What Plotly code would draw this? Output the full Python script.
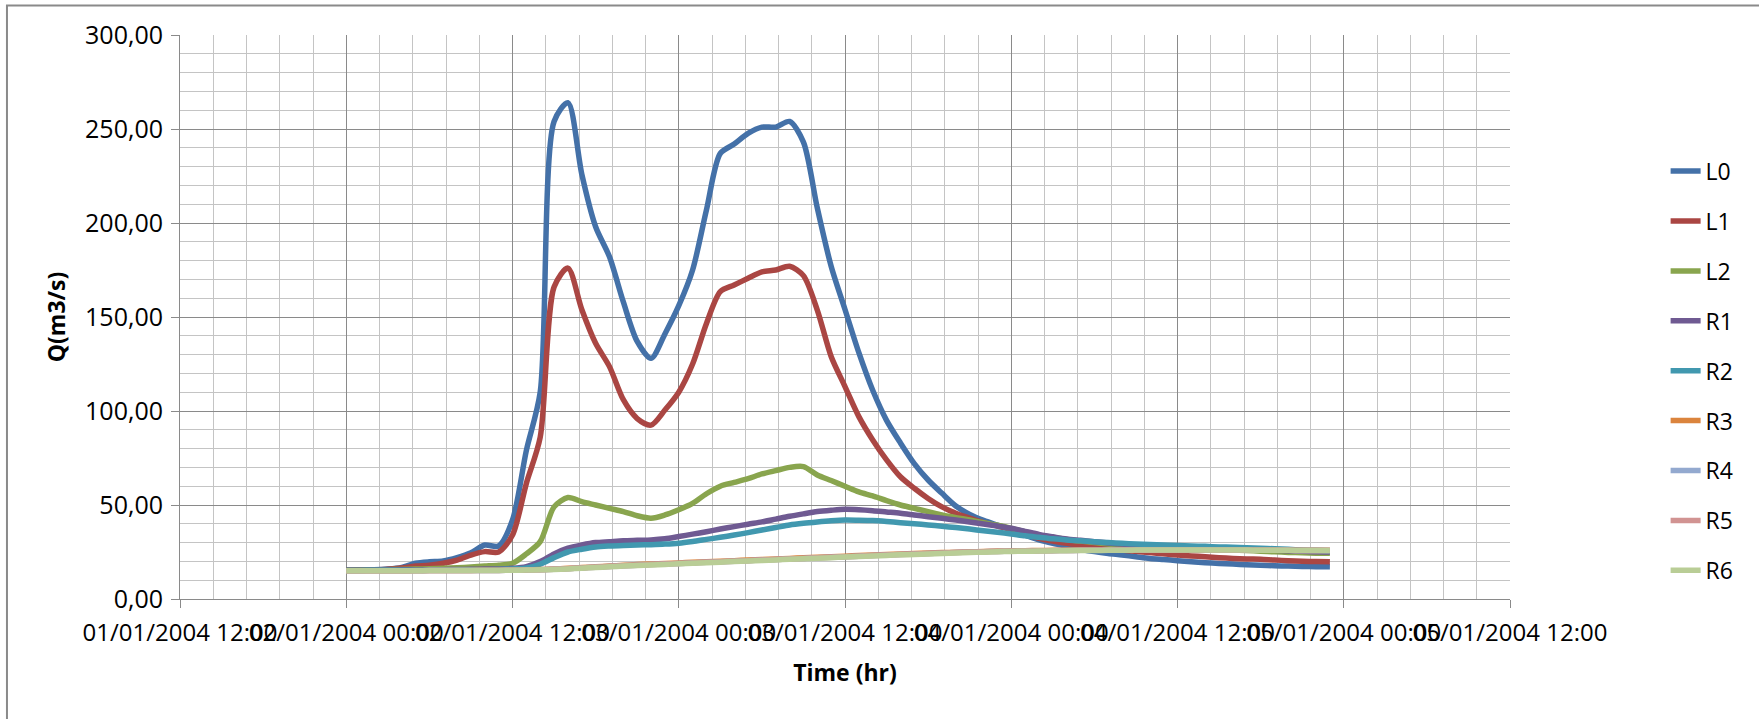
import plotly.graph_objects as go
import pandas as pd

# hourly time stamps, 02/01/2004 00:00 to 04/01/2004 23:00
start_time = "2004-01-02 00:00"
n_hours = 72
times = pd.date_range(start_time, periods=n_hours, freq="h")

series_names = ["L0", "L1", "L2", "R1", "R2", "R3", "R4", "R5", "R6"]

L0 = [15.3, 15.4, 15.5, 15.9, 16.8, 19.0, 19.8, 20.2, 22.0, 24.6, 28.7, 28.2,
      42.0, 79.0, 110.0, 254.0, 264.0, 226.0, 198.0, 182.0, 158.0, 137.0, 128.0, 141.0,
      156.0, 175.0, 207.0, 237.0, 242.0, 247.7, 251.0, 251.0, 254.0, 243.0, 208.0, 177.0,
      154.0, 131.0, 111.0, 95.0, 83.0, 72.0, 63.3, 56.2, 49.5, 45.0, 41.8, 39.3,
      37.0, 34.0, 31.5, 29.6, 28.0, 26.5, 25.2, 24.2, 23.4, 22.5, 21.6, 21.0,
      20.4, 19.8, 19.3, 18.9, 18.6, 18.2, 17.9, 17.7, 17.5, 17.3, 17.2, 17.1]

L1 = [15.3, 15.4, 15.5, 15.8, 16.5, 17.5, 18.0, 19.0, 20.7, 23.4, 25.2, 25.0,
      34.0, 61.5, 86.0, 166.0, 176.0, 154.0, 136.0, 123.6, 106.0, 96.0, 92.5, 100.5,
      110.0, 125.0, 146.6, 163.5, 167.0, 170.6, 174.0, 175.0, 177.0, 172.0, 153.7, 129.0,
      113.0, 97.0, 84.6, 74.0, 65.0, 58.9, 53.5, 49.0, 45.6, 43.0, 40.6, 38.8,
      37.0, 34.5, 32.3, 30.8, 29.6, 28.7, 27.9, 27.0, 26.1, 25.4, 24.7, 24.0,
      23.4, 22.9, 22.5, 22.0, 21.6, 21.3, 21.1, 20.7, 20.4, 20.1, 19.9, 19.8]

L2 = [15.3, 15.4, 15.5, 15.6, 15.7, 15.9, 16.1, 16.3, 16.6, 17.0, 17.5, 18.0,
      19.0, 24.0, 30.5, 49.0, 54.0, 51.8, 50.0, 48.2, 46.5, 44.3, 43.0, 44.7,
      47.5, 50.9, 56.0, 60.0, 62.0, 64.0, 66.5, 68.3, 70.0, 70.4, 66.0, 63.0,
      60.0, 57.0, 54.8, 52.3, 50.0, 48.2, 46.5, 44.7, 43.3, 42.0, 40.6, 39.2,
      37.6, 35.7, 34.0, 32.8, 31.7, 30.8, 30.0, 29.3, 28.7, 28.2, 27.8, 27.3,
      26.9, 26.7, 26.4, 26.2, 26.1, 25.8, 25.4, 25.1, 24.8, 24.6, 24.4, 24.3]

R1 = [15.3, 15.3, 15.4, 15.4, 15.5, 15.5, 15.6, 15.6, 15.7, 15.8, 15.9, 16.0,
      16.3, 17.2, 19.9, 24.0, 27.0, 28.7, 30.0, 30.5, 31.0, 31.2, 31.4, 32.0,
      33.2, 34.5, 35.8, 37.2, 38.5, 39.8, 41.0, 42.5, 44.0, 45.3, 46.5, 47.2,
      47.7, 47.5, 47.0, 46.3, 45.6, 44.7, 43.8, 42.9, 42.0, 41.0, 39.9, 38.8,
      37.6, 36.0, 34.4, 33.1, 31.9, 31.2, 30.5, 29.8, 29.2, 28.8, 28.3, 28.0,
      27.8, 27.5, 27.2, 27.0, 26.7, 26.4, 26.1, 25.9, 25.6, 25.4, 25.1, 25.0]

R2 = [15.2, 15.2, 15.3, 15.3, 15.3, 15.4, 15.4, 15.4, 15.5, 15.5, 15.6, 15.7,
      16.0, 16.5, 18.5, 22.0, 25.0, 26.5, 27.7, 28.2, 28.5, 28.7, 28.9, 29.2,
      29.7, 30.6, 31.7, 32.8, 34.0, 35.3, 36.7, 38.0, 39.4, 40.3, 41.0, 41.6,
      42.0, 41.9, 41.7, 41.2, 40.6, 40.0, 39.4, 38.7, 38.0, 37.2, 36.3, 35.5,
      34.6, 33.6, 32.8, 32.0, 31.4, 31.0, 30.5, 30.0, 29.6, 29.3, 29.0, 28.7,
      28.4, 28.2, 28.0, 27.7, 27.5, 27.2, 27.0, 26.7, 26.4, 26.1, 25.9, 25.7]

R3 = [15.0, 15.0, 15.0, 15.0, 15.0, 15.1, 15.1, 15.1, 15.2, 15.2, 15.3, 15.3,
      15.4, 15.5, 15.7, 15.9, 16.3, 16.7, 17.1, 17.5, 17.9, 18.3, 18.6, 18.9,
      19.2, 19.5, 19.8, 20.1, 20.4, 20.7, 21.0, 21.3, 21.6, 21.9, 22.2, 22.5,
      22.8, 23.1, 23.4, 23.7, 24.0, 24.2, 24.5, 24.7, 24.9, 25.1, 25.3, 25.5,
      25.6, 25.7, 25.8, 25.9, 26.0, 26.0, 26.1, 26.1, 26.1, 26.1, 26.1, 26.1,
      26.1, 26.1, 26.1, 26.1, 26.0, 26.0, 26.0, 26.0, 25.9, 25.9, 25.9, 25.9]

R4 = [15.0, 15.0, 15.0, 15.0, 15.0, 15.0, 15.1, 15.1, 15.1, 15.2, 15.2, 15.2,
      15.3, 15.4, 15.6, 15.8, 16.1, 16.5, 16.9, 17.3, 17.7, 18.0, 18.3, 18.6,
      18.9, 19.2, 19.5, 19.8, 20.1, 20.4, 20.7, 21.0, 21.3, 21.6, 21.9, 22.2,
      22.5, 22.8, 23.1, 23.4, 23.7, 23.9, 24.2, 24.4, 24.7, 24.9, 25.1, 25.3,
      25.4, 25.5, 25.6, 25.7, 25.8, 25.9, 25.9, 26.0, 26.0, 26.0, 26.0, 26.0,
      26.0, 26.0, 26.0, 26.0, 26.0, 26.0, 25.9, 25.9, 25.9, 25.8, 25.8, 25.8]

R5 = [15.0, 15.0, 15.0, 15.0, 15.0, 15.0, 15.1, 15.1, 15.1, 15.2, 15.2, 15.2,
      15.3, 15.4, 15.6, 15.8, 16.1, 16.5, 16.9, 17.3, 17.7, 18.0, 18.3, 18.6,
      18.9, 19.2, 19.5, 19.8, 20.1, 20.4, 20.7, 21.0, 21.3, 21.6, 21.9, 22.2,
      22.5, 22.8, 23.1, 23.4, 23.7, 23.9, 24.2, 24.4, 24.7, 24.9, 25.1, 25.3,
      25.4, 25.5, 25.6, 25.7, 25.8, 25.9, 25.9, 26.0, 26.0, 26.0, 26.0, 26.0,
      26.0, 26.0, 26.0, 26.0, 26.0, 26.0, 25.9, 25.9, 25.9, 25.8, 25.8, 25.8]

R6 = [15.0, 15.0, 15.0, 15.0, 15.0, 15.0, 15.1, 15.1, 15.1, 15.2, 15.2, 15.2,
      15.3, 15.4, 15.5, 15.7, 16.0, 16.4, 16.8, 17.1, 17.5, 17.8, 18.1, 18.4,
      18.7, 19.0, 19.3, 19.6, 19.9, 20.2, 20.5, 20.8, 21.1, 21.4, 21.7, 22.0,
      22.3, 22.6, 22.9, 23.2, 23.5, 23.7, 24.0, 24.2, 24.5, 24.7, 24.9, 25.1,
      25.3, 25.4, 25.5, 25.6, 25.7, 25.8, 25.8, 25.9, 25.9, 26.0, 26.0, 26.0,
      26.0, 26.0, 26.0, 26.0, 26.0, 26.0, 25.9, 25.9, 25.9, 25.8, 25.8, 25.8]

colors = ["#4471A8", "#AA4643", "#89A54E", "#6F5A92", "#4198AF",
          "#DB843D", "#93A9CF", "#D19392", "#B9CD96"]

values = [L0, L1, L2, R1, R2, R3, R4, R5, R6]

y_ticks = [0, 50, 100, 150, 200, 250, 300]
x_range = ["2004-01-01 12:00", "2004-01-05 12:00"]

FONT = "Open Sans, Noto Sans, sans-serif"
GRID_MAJOR = "#8A8A8A"
GRID_MINOR = "#C4C4C4"

fig = go.Figure()
for name, vals, col in zip(series_names, values, colors):
    fig.add_trace(go.Scatter(
        x=times, y=vals, name=name, mode="lines",
        line=dict(color=col, width=5.5, shape="spline", smoothing=0.8),
        legendgroup=name,
    ))

fig.update_layout(
    width=1759, height=719,
    margin=dict(l=180, r=249, t=35, b=120),
    paper_bgcolor="white", plot_bgcolor="white",
    separators=",.",
    font=dict(family=FONT, size=24, color="black"),
    showlegend=True,
    legend=dict(
        x=1.117, xanchor="left", y=0.404, yanchor="middle",
        font=dict(family=FONT, size=23, color="black"),
        tracegroupgap=17, traceorder="grouped",
        bgcolor="rgba(0,0,0,0)",
    ),
    xaxis=dict(
        type="date", range=x_range,
        tick0="2004-01-01 12:00", dtick=12 * 3600 * 1000,
        tickformat="%d/%m/%Y %H:%M", tickangle=0,
        tickfont=dict(family=FONT, size=24, color="black"),
        ticklabelstandoff=4,
        showgrid=True, gridcolor=GRID_MAJOR, gridwidth=1,
        minor=dict(dtick=2.4 * 3600 * 1000, tick0="2004-01-01 12:00",
                   showgrid=True, gridcolor=GRID_MINOR, gridwidth=1),
        showline=True, linecolor=GRID_MAJOR, linewidth=1,
        ticks="outside", ticklen=8, tickcolor=GRID_MAJOR,
        title=dict(text="<b>Time (hr)</b>", standoff=18,
                   font=dict(family=FONT, size=23, color="black")),
        zeroline=False,
    ),
    yaxis=dict(
        range=[0, 300], tickvals=y_ticks, tickformat=".2f",
        tickfont=dict(family=FONT, size=25, color="black"),
        ticklabelstandoff=3,
        showgrid=True, gridcolor=GRID_MAJOR, gridwidth=1,
        minor=dict(dtick=10, showgrid=True, gridcolor=GRID_MINOR, gridwidth=1),
        showline=True, linecolor=GRID_MAJOR, linewidth=1,
        ticks="outside", ticklen=8, tickcolor=GRID_MAJOR,
        title=dict(text="<b>Q(m3/s)</b>", standoff=12,
                   font=dict(family=FONT, size=23, color="black")),
        zeroline=False,
    ),
    shapes=[dict(type="rect", xref="paper", yref="paper",
                 x0=-0.1301, x1=1.6, y0=-0.6, y1=1.0523,
                 line=dict(color="#8A8A8A", width=2), layer="below")],
)

fig.write_html("out.html",
               config={"displayModeBar": False},
               post_script="document.body.style.margin='0';document.body.style.overflow='hidden';")
